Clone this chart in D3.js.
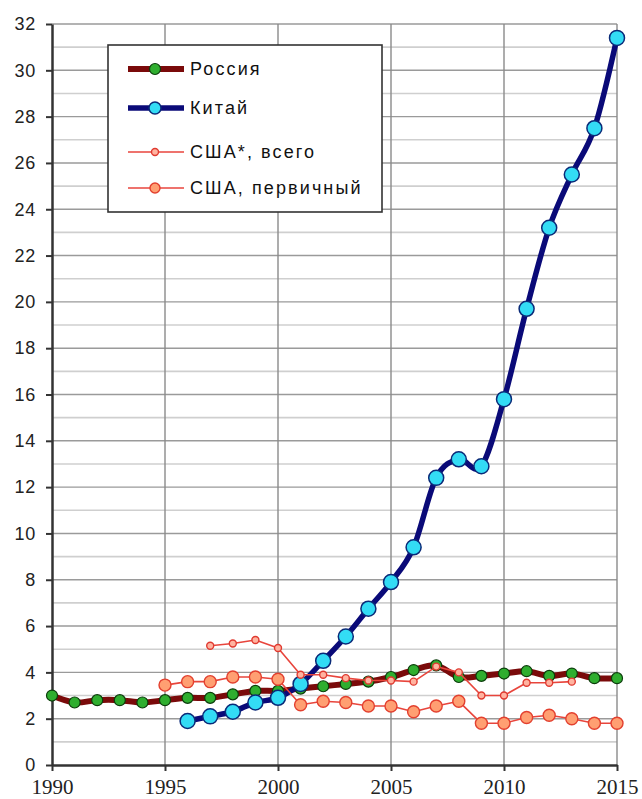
<!DOCTYPE html>
<html>
<head>
<meta charset="utf-8">
<script src="https://cdn.jsdelivr.net/npm/d3@7"></script>
<style>
  html, body { margin: 0; padding: 0; background: #fff; }
  svg { display: block; }
</style>
</head>
<body>
<svg id="chart" width="642" height="799"></svg>
<script>
// Years on the horizontal axis
const years = [1990, 1991, 1992, 1993, 1994, 1995, 1996, 1997, 1998, 1999,
               2000, 2001, 2002, 2003, 2004, 2005, 2006, 2007, 2008, 2009,
               2010, 2011, 2012, 2013, 2014, 2015];

// Series values per year (null where no data)
const russia = [3.0, 2.7, 2.8, 2.8, 2.7, 2.8, 2.9, 2.9, 3.05, 3.2,
                3.2, 3.3, 3.4, 3.5, 3.6, 3.8, 4.1, 4.3, 3.8, 3.85,
                3.95, 4.05, 3.85, 3.95, 3.75, 3.75];
const china = [null, null, null, null, null, null, 1.9, 2.1, 2.3, 2.7,
               2.9, 3.5, 4.5, 5.55, 6.75, 7.9, 9.4, 12.4, 13.2, 12.9,
               15.8, 19.7, 23.2, 25.5, 27.5, 31.4];
const usaTotal = [null, null, null, null, null, null, null, 5.15, 5.25, 5.4,
                  5.05, 3.9, 3.9, 3.75, 3.65, 3.65, 3.6, 4.25, 4.0, 3.0,
                  3.0, 3.55, 3.55, 3.6, null, null];
const usaPrimary = [null, null, null, null, null, 3.45, 3.6, 3.6, 3.8, 3.8,
                    3.7, 2.6, 2.75, 2.7, 2.55, 2.55, 2.3, 2.55, 2.75, 1.8,
                    1.8, 2.05, 2.15, 2.0, 1.8, 1.8];

// Axis ticks
const yTicks = [0, 2, 4, 6, 8, 10, 12, 14, 16, 18, 20, 22, 24, 26, 28, 30, 32];
const yMinor = [1, 3, 5, 7, 9, 11, 13, 15, 17, 19, 21, 23, 25, 27, 29, 31];
const xTicks = [1990, 1995, 2000, 2005, 2010, 2015];

const legendLabels = ["Россия", "Китай", "США*, всего", "США, первичный"];

const svg = d3.select("#chart");
const plotLeft = 52, plotRight = 617, plotTop = 24, plotBottom = 765;

const x = d3.scaleLinear().domain([1990, 2015]).range([plotLeft, plotRight]);
const y = d3.scaleLinear().domain([0, 32]).range([plotBottom, plotTop]);

// Grid: light lines at odd values, darker at even values
svg.append("g").selectAll("line").data(yMinor).join("line")
  .attr("x1", plotLeft).attr("x2", plotRight)
  .attr("y1", d => y(d)).attr("y2", d => y(d))
  .attr("stroke", "#cfcfcf").attr("stroke-width", 1.6);
svg.append("g").selectAll("line").data(yTicks.filter(d => d > 0)).join("line")
  .attr("x1", plotLeft).attr("x2", plotRight)
  .attr("y1", d => y(d)).attr("y2", d => y(d))
  .attr("stroke", "#9a9a9a").attr("stroke-width", 1.4);
svg.append("g").selectAll("line").data(xTicks.filter(d => d > 1990)).join("line")
  .attr("x1", d => x(d)).attr("x2", d => x(d))
  .attr("y1", plotTop).attr("y2", plotBottom)
  .attr("stroke", "#8a8a8a").attr("stroke-width", 1.4);

// Axes
const yAxis = d3.axisLeft(y).tickValues(yTicks).tickSize(6).tickSizeOuter(0).tickPadding(10);
const gy = svg.append("g").attr("transform", `translate(${plotLeft},0)`).call(yAxis);
gy.select(".domain").attr("stroke", "#333").attr("stroke-width", 2.5);
gy.selectAll(".tick line").attr("stroke", "#333").attr("stroke-width", 2);
gy.selectAll(".tick text")
  .attr("font-family", "'Liberation Sans', Arial, sans-serif")
  .attr("font-size", 18).attr("fill", "#222").attr("letter-spacing", 0.8);

const xAxis = d3.axisBottom(x).tickValues(xTicks).tickFormat(d3.format("d"))
  .tickSize(6).tickSizeOuter(0).tickPadding(8);
const gx = svg.append("g").attr("transform", `translate(0,${plotBottom})`).call(xAxis);
gx.select(".domain").attr("stroke", "#333").attr("stroke-width", 2.5);
gx.selectAll(".tick line").attr("stroke", "#333").attr("stroke-width", 2);
gx.selectAll(".tick text")
  .attr("font-family", "'Liberation Serif', 'Times New Roman', serif")
  .attr("font-size", 21).attr("fill", "#222");

// Series
const pts = arr => years.map((yr, i) => ({ yr, v: arr[i] })).filter(d => d.v !== null);

const smooth = d3.line().x(d => x(d.yr)).y(d => y(d.v)).curve(d3.curveCatmullRom.alpha(0));
const straight = d3.line().x(d => x(d.yr)).y(d => y(d.v));

const series = [
  { data: russia, line: smooth, stroke: "#7a0a0a", width: 6, r: 5.5, lr: 5.5, fill: "#2fae2f", mstroke: "#0b3d0b", mw: 1.2 },
  { data: china, line: smooth, stroke: "#0a0a78", width: 5.5, r: 7.5, lr: 6, fill: "#33dcf5", mstroke: "#0a2a78", mw: 1.5 },
  { data: usaTotal, line: straight, stroke: "#e8453c", width: 1.6, r: 3.5, lr: 3.5, fill: "#ffb3a0", mstroke: "#e03a30", mw: 1.4 },
  { data: usaPrimary, line: straight, stroke: "#e8453c", width: 1.6, r: 6, lr: 5, fill: "#ff9f72", mstroke: "#e3402f", mw: 1.4 }
];

series.forEach(s => {
  const p = pts(s.data);
  const g = svg.append("g");
  g.append("path").datum(p).attr("d", s.line)
    .attr("fill", "none").attr("stroke", s.stroke).attr("stroke-width", s.width)
    .attr("stroke-linejoin", "round").attr("stroke-linecap", "round");
  g.selectAll("circle").data(p).join("circle")
    .attr("cx", d => x(d.yr)).attr("cy", d => y(d.v)).attr("r", s.r)
    .attr("fill", s.fill).attr("stroke", s.mstroke).attr("stroke-width", s.mw);
});

// Legend
const lg = svg.append("g");
lg.append("rect").attr("x", 108).attr("y", 45).attr("width", 274).attr("height", 167)
  .attr("fill", "#fff").attr("stroke", "#333").attr("stroke-width", 1.6);
const rowY = [69, 108, 152, 188];
series.forEach((s, i) => {
  const yy = rowY[i];
  lg.append("line").attr("x1", 128).attr("x2", 184).attr("y1", yy).attr("y2", yy)
    .attr("stroke", s.stroke).attr("stroke-width", s.width);
  lg.append("circle").attr("cx", 155).attr("cy", yy).attr("r", s.lr)
    .attr("fill", s.fill).attr("stroke", s.mstroke).attr("stroke-width", s.mw);
  lg.append("text").attr("x", 190).attr("y", yy).attr("dy", "0.36em")
    .attr("font-family", "'Liberation Sans', Arial, sans-serif")
    .attr("font-size", 18).attr("letter-spacing", 2.1).attr("fill", "#111")
    .text(legendLabels[i]);
});
</script>
</body>
</html>
